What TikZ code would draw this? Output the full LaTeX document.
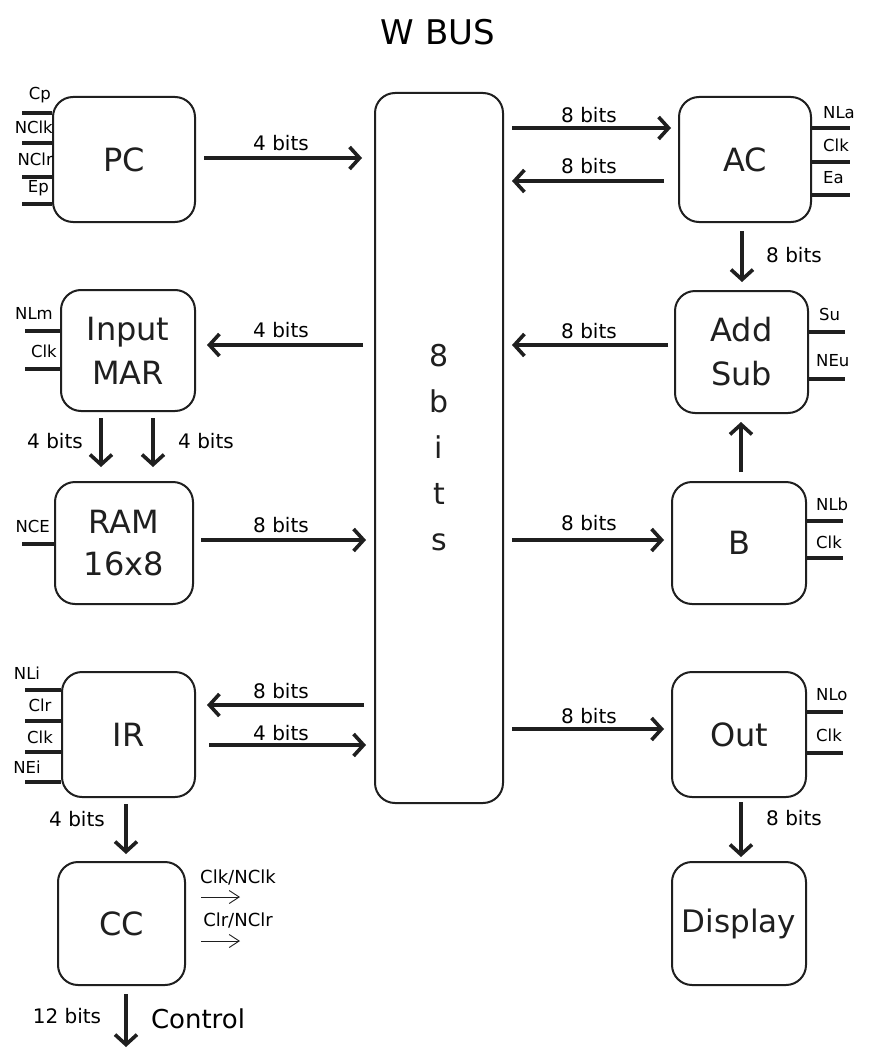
\documentclass[tikz,border=0pt]{standalone}
\usepackage{fontspec}
\setmainfont{DejaVu Sans}
\usetikzlibrary{arrows.meta,calc}
\begin{document}
\begin{tikzpicture}[x=1pt,y=-1pt,
 box/.style={draw, color={black!88}, line width=2pt, rounded corners=20pt, align=center, inner sep=0pt,
   font=\fontsize{32}{44}\selectfont},
 arr/.style={color={black!88}, line width=3.6pt, -{Straight Barb[length=10pt,width=22pt]}},
 thinarr/.style={color={black!88}, line width=0.9pt, -{Straight Barb[length=10pt,width=13pt]}},
 pin/.style={color={black!88}, line width=4.5pt},
 bl/.style={font=\fontsize{20}{24}\selectfont, inner sep=1pt},
 pl/.style={font=\fontsize{16.5}{19}\selectfont, inner sep=1pt},
]
\useasboundingbox[fill=white] (0,0) rectangle (869,1054);

% title
\node[font=\fontsize{34}{38}\selectfont] (title) at (438,32) {W BUS};

% bus
\node[box, minimum width=128pt, minimum height=710pt, font=\fontsize{30}{46}\selectfont] (bus) at (439,448) {8\\b\\i\\t\\s};

% boxes
\node[box, minimum width=142pt, minimum height=125pt] (pc) at (124,159.5) {PC};
\node[box, minimum width=132pt, minimum height=125pt] (ac) at (745,159.5) {AC};
\node[box, minimum width=134pt, minimum height=121pt] (mar) at (128,350.5) {Input\\MAR};
\node[box, minimum width=133pt, minimum height=122pt] (as) at (741.5,352) {Add\\Sub};
\node[box, minimum width=138pt, minimum height=122pt, font=\fontsize{32}{42}\selectfont] (ram) at (124,543) {RAM\\16x8};
\node[box, minimum width=134pt, minimum height=122pt] (b) at (739,543) {B};
\node[box, minimum width=133pt, minimum height=125pt] (ir) at (128.5,734.5) {IR};
\node[box, minimum width=134pt, minimum height=125pt] (out) at (739,734.5) {Out};
\node[box, minimum width=127pt, minimum height=123pt] (cc) at (121.5,923.5) {CC};
\node[box, minimum width=134pt, minimum height=123pt, font=\fontsize{31}{40}\selectfont] (disp) at (739,923.5) {Display};

% arrows to/from bus
\draw[arr] ($(pc.east)+(8,-1.5)$) -- ($(pc.east -| bus.west)+(-12,-1.5)$);
\node[bl] (l1) at (281,143) {4 bits};
\draw[arr] ($(bus.east |- ac.west)+(8,-31.5)$) -- ($(ac.west)+(-7,-31.5)$);
\node[bl] (l2) at (589,115) {8 bits};
\draw[arr] ($(ac.west)+(-14,21.5)$) -- ($(bus.east |- ac.west)+(8,21.5)$);
\node[bl] (l3) at (589,166) {8 bits};
\draw[arr] ($(ac.south)+(-3,8)$) -- ($(ac.south |- as.north)+(-3,-8)$);
\node[bl] (l4) at (794,255) {8 bits};
\draw[arr] ($(bus.west |- mar.east)+(-11,-5.5)$) -- ($(mar.east)+(11,-5.5)$);
\node[bl] (l5) at (281,330) {4 bits};
\draw[arr] ($(mar.south)+(-27,6)$) -- ($(mar.south |- ram.north)+(-27,-14)$);
\draw[arr] ($(mar.south)+(25,6)$) -- ($(mar.south |- ram.north)+(25,-14)$);
\node[bl] (l6) at (55,441) {4 bits};
\node[bl] (l7) at (206,441) {4 bits};
\draw[arr] ($(ram.east)+(7,-3)$) -- ($(bus.west |- ram.east)+(-8,-3)$);
\node[bl] (l8) at (281,525) {8 bits};
\draw[arr] ($(as.west)+(-6,-7)$) -- ($(bus.east |- as.west)+(8,-7)$);
\node[bl] (l9) at (589,331) {8 bits};
\draw[arr] ($(b.north)+(2,-9)$) -- ($(b.north |- as.south)+(2,8)$);
\draw[arr] ($(bus.east |- b.west)+(8,-3)$) -- ($(b.west)+(-7,-3)$);
\node[bl] (l10) at (589,523) {8 bits};
\draw[arr] ($(bus.west |- ir.east)+(-10,-29.5)$) -- ($(ir.east)+(11,-29.5)$);
\node[bl] (l11) at (281,691) {8 bits};
\draw[arr] ($(ir.east)+(13,10.5)$) -- ($(bus.west |- ir.east)+(-8,10.5)$);
\node[bl] (l12) at (281,733) {4 bits};
\draw[arr] ($(ir.south)+(-2.5,6)$) -- ($(ir.south |- cc.north)+(-2.5,-7)$);
\node[bl] (l13) at (77,819) {4 bits};
\draw[arr] ($(bus.east |- out.west)+(8,-5.5)$) -- ($(out.west)+(-7,-5.5)$);
\node[bl] (l14) at (589,716) {8 bits};
\draw[arr] ($(out.south)+(2,4)$) -- ($(out.south |- disp.north)+(2,-4)$);
\node[bl] (l15) at (794,818) {8 bits};

% CC outputs
\coordinate (ck) at (240,897);
\coordinate (cr) at (240,941);
\draw[thinarr] (cc.east |- ck) ++(15,0) -- (ck);
\draw[thinarr] (cc.east |- cr) ++(15,0) -- (cr);
\node[bl, font=\fontsize{18}{21}\selectfont] (l16) at (238,877) {Clk/NClk};
\node[bl, font=\fontsize{18}{21}\selectfont] (l17) at (238,920) {Clr/NClr};
\coordinate (ctl) at (126,1047);
\draw[arr] ($(cc.south)+(4.5,8)$) -- (ctl);
\node[bl] (l18) at (67,1016) {12 bits};
\node[font=\fontsize{26}{30}\selectfont, inner sep=1pt] (l19) at (198,1019) {Control};

% pins PC
\foreach \y in {113,143,177,204} \draw[pin] (pc.west |- 0,\y) -- (22,\y);
\node[pl, anchor=east] (pc1) at (52,95) {Cp};
\node[pl, anchor=east] (pc2) at (54,127) {NClk};
\node[pl, anchor=east] (pc3) at (54,159) {NClr};
\node[pl, anchor=east] (pc4) at (50,188) {Ep};
% pins MAR
\foreach \y in {331,369} \draw[pin] (mar.west |- 0,\y) -- (25,\y);
\node[pl, anchor=east] (m1) at (54,313) {NLm};
\node[pl, anchor=east] (m2) at (58,351) {Clk};
% pin RAM
\draw[pin] (ram.west |- 0,544) -- (22,544);
\node[pl, anchor=east] (r1) at (51,526) {NCE};
% pins IR
\foreach \y in {690,721,752,782} \draw[pin] (ir.west |- 0,\y) -- (25,\y);
\node[pl] (i1) at (27,673) {NLi};
\node[pl] (i2) at (40,705) {Clr};
\node[pl] (i3) at (40,737) {Clk};
\node[pl] (i4) at (27,767) {NEi};
% pins AC
\foreach \y in {128,162,195} \draw[pin] (ac.east |- 0,\y) -- (850,\y);
\node[pl, anchor=west] (a1) at (822,113) {NLa};
\node[pl, anchor=west] (a2) at (822,145) {Clk};
\node[pl, anchor=west] (a3) at (822,178) {Ea};
% pins AddSub
\foreach \y in {332,379} \draw[pin] (as.east |- 0,\y) -- (845,\y);
\node[pl, anchor=west] (s1) at (818,314) {Su};
\node[pl, anchor=west] (s2) at (815,361) {NEu};
% pins B
\foreach \y in {521,558} \draw[pin] (b.east |- 0,\y) -- (843,\y);
\node[pl, anchor=west] (b1) at (815,504) {NLb};
\node[pl, anchor=west] (b2) at (815,542) {Clk};
% pins Out
\foreach \y in {712,753} \draw[pin] (out.east |- 0,\y) -- (843,\y);
\node[pl, anchor=west] (o1) at (815,695) {NLo};
\node[pl, anchor=west] (o2) at (815,735) {Clk};
\end{tikzpicture}
\end{document}
